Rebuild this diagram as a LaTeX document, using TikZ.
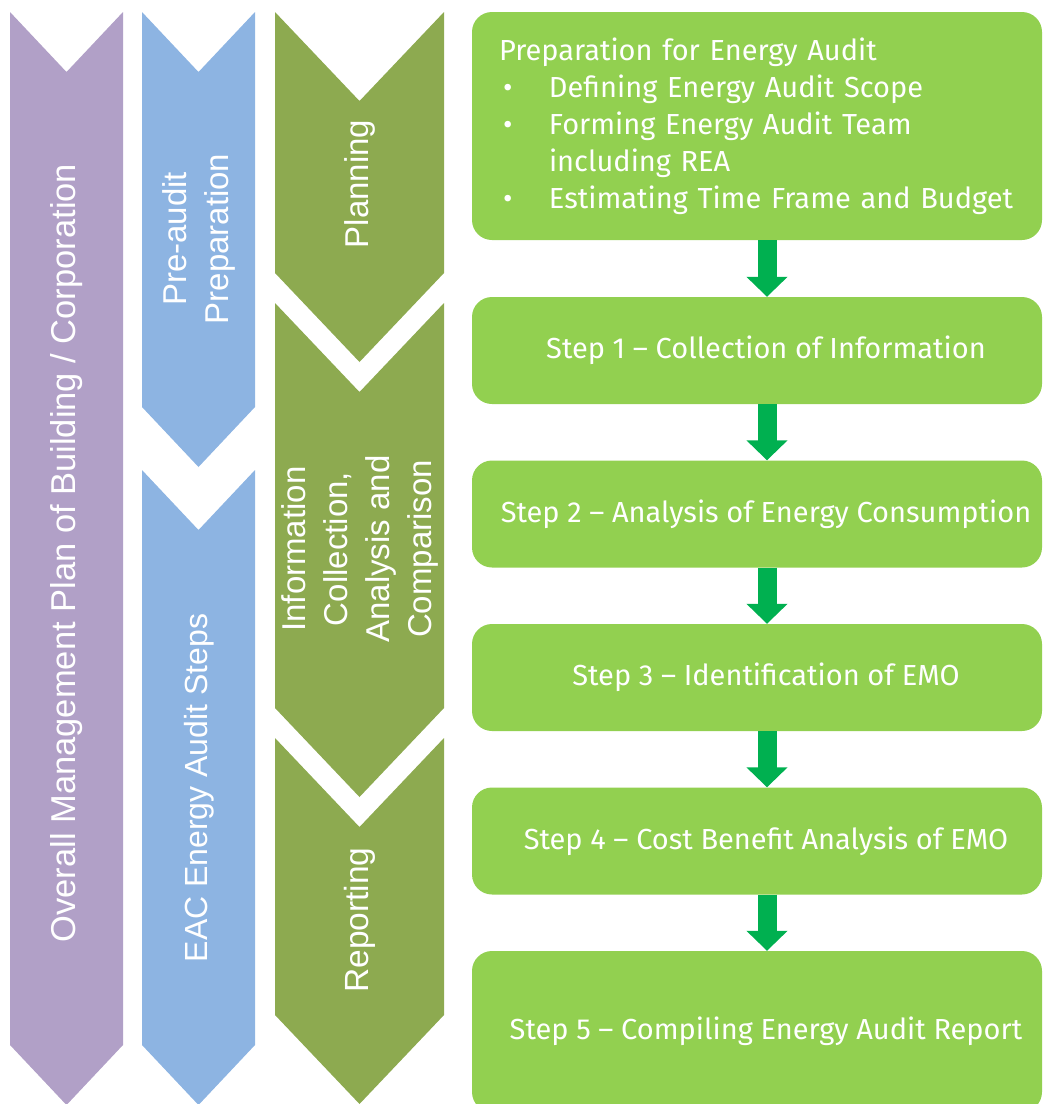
\documentclass[tikz,border=0pt]{standalone}
\usepackage{fontspec}
\setmainfont{Fira Sans}
\newfontfamily\bandfont{Liberation Sans}
\usetikzlibrary{arrows.meta}

\definecolor{bandpurple}{HTML}{B1A0C7}
\definecolor{bandblue}{HTML}{8DB4E2}
\definecolor{bandolive}{HTML}{8DAA50}
\definecolor{steplime}{HTML}{92D050}
\definecolor{arrowgreen}{HTML}{00B050}

% colour, left, right, top, bottom, depth
\newcommand{\auditband}[6]{%
  \fill[#1] (#2,#4) -- ({(#2+#3)/2},{#4+#6}) -- (#3,#4) -- (#3,#5) -- ({(#2+#3)/2},{#5+#6}) -- (#2,#5) -- cycle;}
\newcommand{\audititem}{\makebox[50pt][l]{\hspace*{4pt}\textbullet}}

\tikzset{
  bandtext/.style={text=white, font=\bandfont\fontsize{33}{42}\selectfont, rotate=90, align=center, inner sep=0pt},
  stepbox/.style={fill=steplime, rounded corners=20pt, minimum width=570pt, minimum height=107pt,
    text=white, font=\fontsize{29}{37}\selectfont, inner sep=0pt},
  prepbox/.style={stepbox, minimum height=228pt, text width=516pt, inner xsep=27pt, align=left},
  flowarrow/.style={draw=arrowgreen, line width=19pt, -{Triangle[width=40pt,length=20pt]}}
}

\begin{document}
\begin{tikzpicture}[x=1pt, y=-1pt]
\useasboundingbox (0,0) rectangle (1046,1104);
\clip (0,0) rectangle (1046,1104);

% Bands
\auditband{bandpurple}{10}{123}{12}{1045}{60}
\auditband{bandblue}{142}{255}{12}{407}{60}
\auditband{bandblue}{142}{255}{470}{1045}{60}
\auditband{bandolive}{275}{444}{12}{273}{89}
\auditband{bandolive}{275}{444}{303}{708}{89}
\auditband{bandolive}{275}{444}{738}{1015}{89}

\node[bandtext, font=\bandfont\fontsize{34.5}{42}\selectfont] (plan) at (66.5,553) {Overall Management Plan of Building / Corporation};
\node[bandtext] (preaudit) at (199,239) {Pre-audit\\Preparation};
\node[bandtext, font=\bandfont\fontsize{32}{42}\selectfont] (eacsteps) at (199,788) {EAC Energy Audit Steps};
\node[bandtext] (planning) at (359.5,184) {Planning};
\node[bandtext] (collect) at (360,549) {Information\\Collection,\\Analysis and\\Comparison};
\node[bandtext, font=\bandfont\fontsize{33.5}{42}\selectfont] (reporting) at (359.5,920) {Reporting};

% Steps
\node[prepbox] (prep) at (757,126) {\hyphenpenalty=10000 Preparation for Energy Audit\\
  \audititem Defining Energy Audit Scope\\
  \audititem Forming Energy Audit Team\\
  \hspace*{50pt}including REA\\
  \audititem Estimating Time Frame and Budget};
\node[stepbox] (step1) at (757,350.5) {\hspace*{18pt}Step 1 -- Collection of Information};
\node[stepbox] (step2) at (757,514) {\hspace*{18pt}Step 2 -- Analysis of Energy Consumption};
\node[stepbox] (step3) at (757,677.5) {\hspace*{18pt}Step 3 -- Identification of EMO};
\node[stepbox] (step4) at (757,841) {\hspace*{18pt}Step 4 -- Cost Benefit Analysis of EMO};
\node[stepbox, minimum height=161pt] (step5) at (757,1031.5) {\hspace*{18pt}Step 5 -- Compiling Energy Audit Report};

% Arrows
\draw[flowarrow] ([xshift=10pt]prep.south) -- ([xshift=10pt]step1.north);
\draw[flowarrow] ([xshift=10pt]step1.south) -- ([xshift=10pt]step2.north);
\draw[flowarrow] ([xshift=10pt]step2.south) -- ([xshift=10pt]step3.north);
\draw[flowarrow] ([xshift=10pt]step3.south) -- ([xshift=10pt]step4.north);
\draw[flowarrow] ([xshift=10pt]step4.south) -- ([xshift=10pt]step5.north);
\end{tikzpicture}
\end{document}
